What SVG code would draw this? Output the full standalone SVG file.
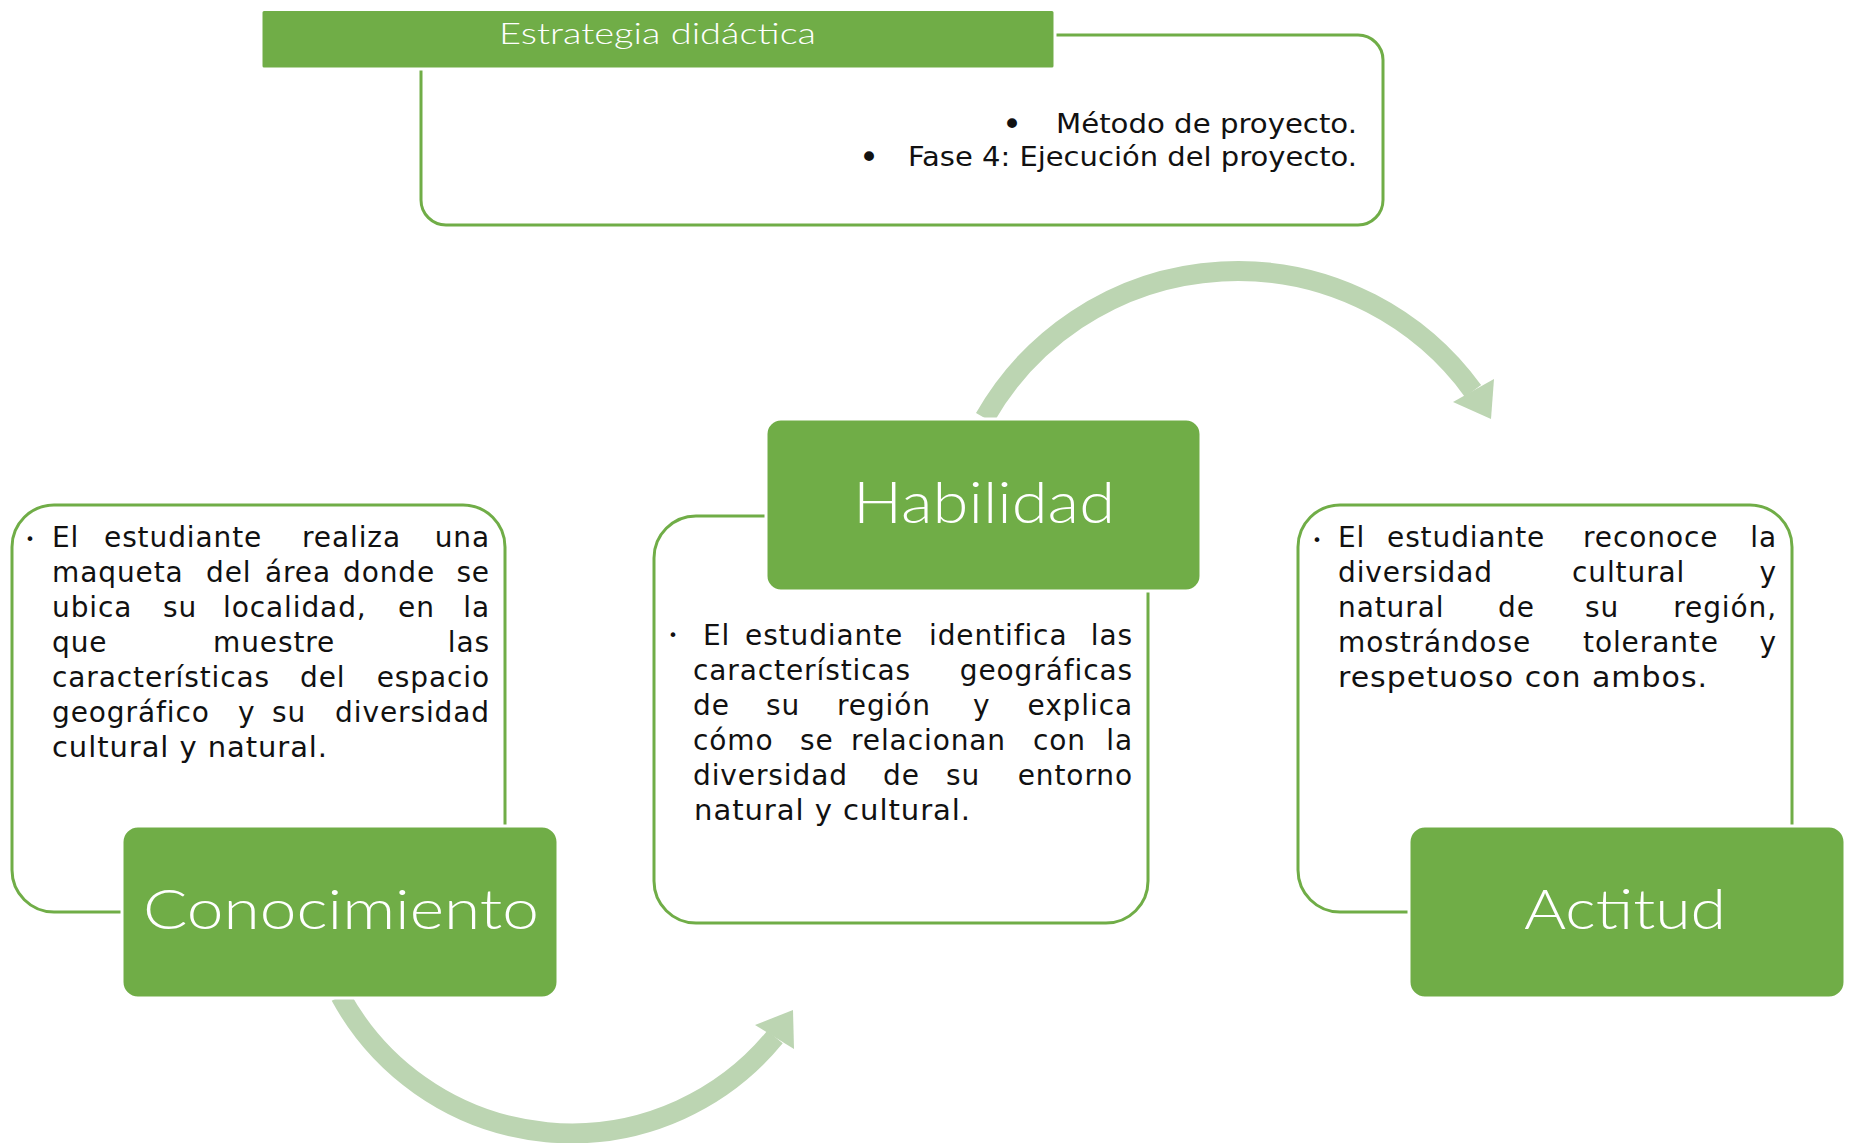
<svg xmlns="http://www.w3.org/2000/svg" width="1850" height="1143" viewBox="0 0 1850 1143">
<style>
.frame{fill:none;stroke:#70AD47;stroke-width:3}
.box{fill:#70AD47;stroke:#FFFFFF;stroke-width:3}
.title{font-family:Lato,"Open Sans","Liberation Sans",sans-serif;font-weight:300;fill:#FFFFFF}
.body{font-family:"DejaVu Sans","Liberation Sans",sans-serif;font-size:28px;letter-spacing:0.9px;fill:#111111}
.end{text-anchor:end}
.top{font-family:"DejaVu Sans","Liberation Sans",sans-serif;font-size:26px;fill:#111111}
.bul{font-family:"DejaVu Sans","Liberation Sans",sans-serif;font-size:34px;fill:#111111;text-anchor:middle}
.dot{font-family:"DejaVu Sans","Liberation Sans",sans-serif;font-size:16px;fill:#111111;text-anchor:middle}
.arc{fill:none;stroke:#BCD5B2;stroke-width:20}
.head{fill:#BCD5B2}
</style>
<rect width="1850" height="1143" fill="#FFFFFF"/>
<g id="connectors">
<path class="arc" d="M 984.7 418 A 291 291 0 0 1 1473 391"/>
<polygon class="head" points="1453,402 1494,379 1491,419"/>
<path class="arc" d="M 340.5 996 A 263 263 0 0 0 775 1037"/>
<polygon class="head" points="755,1025 794,1049 793,1010"/>
</g>
<g id="estrategia">
<rect class="frame" x="421" y="35" width="962" height="190" rx="25"/>
<rect class="box" x="261" y="9.5" width="794" height="59.5" rx="3"/>
<text class="title" x="499" y="44" font-size="30" textLength="317" lengthAdjust="spacingAndGlyphs">Estrategia didáctica</text>
<text class="bul" x="1012" y="136">•</text>
<text class="top" x="1056" y="133" textLength="301" lengthAdjust="spacingAndGlyphs">Método de proyecto.</text>
<text class="bul" x="869" y="169">•</text>
<text class="top" x="908" y="166" textLength="449" lengthAdjust="spacingAndGlyphs">Fase 4: Ejecución del proyecto.</text>
</g>
<g id="conocimiento">
<rect class="frame" x="12" y="505" width="493" height="407" rx="42"/>
<text class="dot" x="30" y="545">•</text>
<text class="body" y="547"><tspan x="52">El</tspan><tspan x="104">estudiante</tspan><tspan x="302">realiza</tspan></text>
<text class="body end" x="490" y="547">una</text>
<text class="body" y="582"><tspan x="52">maqueta</tspan><tspan x="206">del</tspan><tspan x="265">área</tspan><tspan x="343">donde</tspan></text>
<text class="body end" x="490" y="582">se</text>
<text class="body" y="617"><tspan x="52">ubica</tspan><tspan x="163">su</tspan><tspan x="223">localidad,</tspan><tspan x="398">en</tspan></text>
<text class="body end" x="490" y="617">la</text>
<text class="body" y="652"><tspan x="52">que</tspan><tspan x="213">muestre</tspan></text>
<text class="body end" x="490" y="652">las</text>
<text class="body" y="687"><tspan x="52">características</tspan><tspan x="300">del</tspan></text>
<text class="body end" x="490" y="687">espacio</text>
<text class="body" y="722"><tspan x="52">geográfico</tspan><tspan x="238">y</tspan><tspan x="272">su</tspan></text>
<text class="body end" x="490" y="722">diversidad</text>
<text class="body" x="52" y="757" textLength="276" lengthAdjust="spacingAndGlyphs">cultural y natural.</text>
<rect class="box" x="122" y="826" width="436" height="172" rx="16"/>
<text class="title" x="143" y="929" font-size="56" textLength="396" lengthAdjust="spacingAndGlyphs">Conocimiento</text>
</g>
<g id="habilidad">
<rect class="frame" x="654" y="516" width="494" height="407" rx="42"/>
<text class="dot" x="673" y="641">•</text>
<text class="body" y="645"><tspan x="703">El</tspan><tspan x="745">estudiante</tspan><tspan x="929">identifica</tspan></text>
<text class="body end" x="1133" y="645">las</text>
<text class="body" x="693" y="680">características</text>
<text class="body end" x="1133" y="680">geográficas</text>
<text class="body" y="715"><tspan x="693">de</tspan><tspan x="766">su</tspan><tspan x="837">región</tspan><tspan x="973">y</tspan></text>
<text class="body end" x="1133" y="715">explica</text>
<text class="body" y="750"><tspan x="693">cómo</tspan><tspan x="800">se</tspan><tspan x="851">relacionan</tspan><tspan x="1033">con</tspan></text>
<text class="body end" x="1133" y="750">la</text>
<text class="body" y="785"><tspan x="693">diversidad</tspan><tspan x="883">de</tspan><tspan x="946">su</tspan></text>
<text class="body end" x="1133" y="785">entorno</text>
<text class="body" x="694" y="820" textLength="277" lengthAdjust="spacingAndGlyphs">natural y cultural.</text>
<rect class="box" x="766" y="419" width="435" height="172" rx="15"/>
<text class="title" x="853" y="523" font-size="58" textLength="262" lengthAdjust="spacingAndGlyphs">Habilidad</text>
</g>
<g id="actitud">
<rect class="frame" x="1298" y="505" width="494" height="407" rx="42"/>
<text class="dot" x="1317" y="546">•</text>
<text class="body" y="547"><tspan x="1338">El</tspan><tspan x="1387">estudiante</tspan><tspan x="1583">reconoce</tspan></text>
<text class="body end" x="1777" y="547">la</text>
<text class="body" y="582"><tspan x="1338">diversidad</tspan><tspan x="1572">cultural</tspan></text>
<text class="body end" x="1777" y="582">y</text>
<text class="body" y="617"><tspan x="1338">natural</tspan><tspan x="1498">de</tspan><tspan x="1585">su</tspan></text>
<text class="body end" x="1777" y="617">región,</text>
<text class="body" y="652"><tspan x="1338">mostrándose</tspan><tspan x="1583">tolerante</tspan></text>
<text class="body end" x="1777" y="652">y</text>
<text class="body" x="1338" y="687" textLength="370" lengthAdjust="spacingAndGlyphs">respetuoso con ambos.</text>
<rect class="box" x="1409" y="826" width="436" height="172" rx="16"/>
<text class="title" x="1524" y="929" font-size="56" textLength="202" lengthAdjust="spacingAndGlyphs">Actitud</text>
</g>
</svg>
